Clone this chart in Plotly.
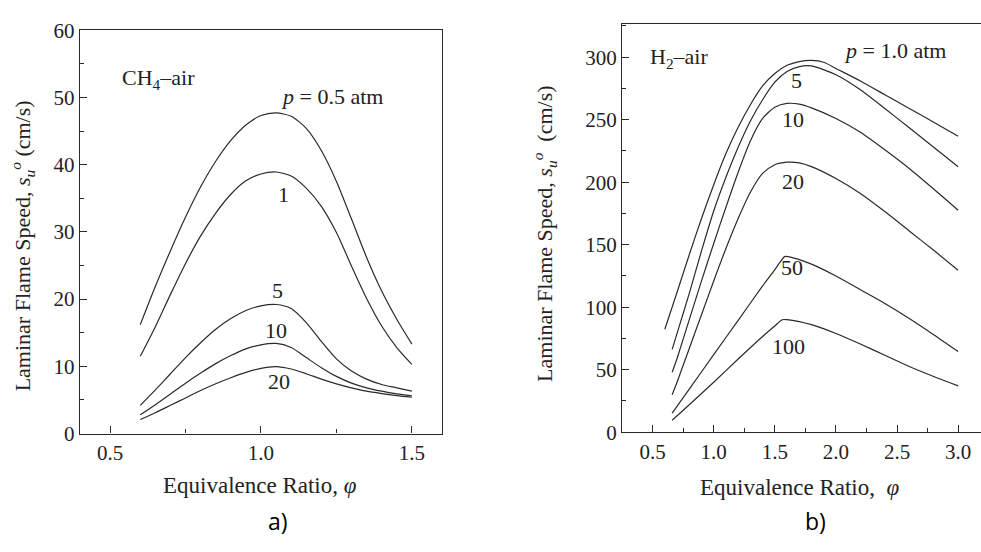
import plotly.graph_objects as go

# ---- Data: CH4-air (panel a) ----
phi_ch4 = [0.6, 0.65, 0.7, 0.75, 0.8, 0.85, 0.9, 0.95, 1.0, 1.05, 1.1, 1.15, 1.2, 1.25, 1.3, 1.35, 1.4, 1.45, 1.5]
ch4_p05 = [16.2, 21.9, 27.2, 32.2, 36.7, 40.5, 43.6, 45.9, 47.3, 47.7, 47.2, 45.4, 42.1, 37.5, 31.9, 26.2, 21.2, 17.0, 13.3]
ch4_p1 = [11.5, 15.9, 20.7, 25.3, 29.4, 32.8, 35.6, 37.6, 38.6, 38.9, 38.3, 36.5, 33.8, 29.9, 24.9, 20.1, 16.0, 12.8, 10.3]
ch4_p5 = [4.2, 6.5, 8.9, 11.3, 13.5, 15.5, 17.1, 18.3, 19.0, 19.2, 18.6, 16.5, 13.7, 11.1, 9.3, 8.1, 7.3, 6.8, 6.3]
ch4_p10 = [2.8, 4.3, 5.9, 7.5, 9.0, 10.4, 11.6, 12.6, 13.2, 13.4, 12.8, 11.3, 9.8, 8.5, 7.5, 6.8, 6.3, 5.9, 5.6]
ch4_p20 = [2.1, 3.1, 4.2, 5.3, 6.4, 7.4, 8.3, 9.1, 9.7, 9.95, 9.6, 8.9, 8.1, 7.4, 6.8, 6.3, 5.95, 5.65, 5.4]

# ---- Data: H2-air (panel b) ----
h2_p1_x = [0.6, 0.7, 0.8, 0.9, 1.0, 1.1, 1.2, 1.3, 1.4, 1.5, 1.6, 1.7, 1.8, 1.9, 2.0, 2.2, 2.4, 2.6, 2.8, 3.0]
h2_p1_y = [82.3, 112, 142, 171, 198, 223, 244, 262, 277, 287, 293.5, 296.5, 297.5, 296, 291, 281, 270, 259, 248, 236.7]
h2_x = [0.66, 0.7, 0.8, 0.9, 1.0, 1.1, 1.2, 1.3, 1.4, 1.5, 1.6, 1.7, 1.8, 2.0, 2.2, 2.4, 2.6, 2.8, 3.0]
h2_p5 = [66.3, 79, 111, 145, 177, 204, 228, 249, 266, 280, 288.5, 292.5, 293, 286, 274, 259, 243.5, 228, 212.4]
h2_p10 = [47.9, 59, 90, 121, 151, 180, 208, 233, 251, 260, 263, 262.5, 259.5, 251, 240, 226, 211, 194.5, 177.5]
h2_p20 = [30, 40, 67, 94, 121, 147, 171, 192, 207, 214, 216, 215.5, 212.5, 203, 191, 176.5, 161, 145.5, 129.5]
h2_p50_x = [0.66, 0.8, 1.0, 1.2, 1.4, 1.5, 1.55, 1.58, 1.65, 1.8, 2.0, 2.2, 2.4, 2.6, 2.8, 3.0]
h2_p50 = [15.3, 34.5, 62, 89.5, 117, 130, 137, 140.5, 139.5, 134.5, 125, 114, 103, 91, 78, 64.5]
h2_p100_x = [0.66, 0.8, 1.0, 1.2, 1.4, 1.5, 1.56, 1.6, 1.7, 1.8, 2.0, 2.2, 2.4, 2.6, 2.8, 3.0]
h2_p100 = [9.6, 22, 40, 58.5, 76.5, 85, 90, 90, 88.5, 86, 79, 70.5, 61.5, 52.5, 44.5, 37]

SERIF = "Liberation Serif, Times New Roman, serif"
LC = "#2a2a2a"

fig = go.Figure()

def add(x, y, xa, ya):
    fig.add_trace(go.Scatter(x=x, y=y, mode="lines", xaxis=xa, yaxis=ya,
                             line=dict(color=LC, width=1.2, shape="spline", smoothing=0.7),
                             showlegend=False, hoverinfo="skip"))

for ys in [ch4_p05, ch4_p1, ch4_p5, ch4_p10, ch4_p20]:
    add(phi_ch4, ys, "x", "y")

add(h2_p1_x, h2_p1_y, "x2", "y2")
for ys in [h2_p5, h2_p10, h2_p20]:
    add(h2_x, ys, "x2", "y2")
add(h2_p50_x, h2_p50, "x2", "y2")
add(h2_p100_x, h2_p100, "x2", "y2")

axis_common = dict(showline=True, linecolor=LC, linewidth=1.3, ticks="inside", ticklen=7,
                   tickcolor=LC, tickwidth=1.2, showgrid=False, zeroline=False,
                   tickfont=dict(family=SERIF, size=21, color="#222"))

fig.update_layout(
    width=981, height=552, margin=dict(l=0, r=0, t=0, b=0),
    plot_bgcolor="white", paper_bgcolor="white",
    xaxis=dict(domain=[0.0815, 0.4506], range=[0.4, 1.6], anchor="y", mirror=True,
               tick0=0.5, dtick=0.5, tickformat=".1f",
               minor=dict(ticks="inside", ticklen=4, dtick=0.25, tick0=0.25, tickcolor=LC),
               **axis_common),
    yaxis=dict(domain=[0.2016, 0.9656], range=[0, 60], anchor="x", mirror=True,
               tick0=0, dtick=10,
               minor=dict(ticks="inside", ticklen=4, dtick=5, tickcolor=LC),
               **axis_common),
    xaxis2=dict(domain=[0.6341, 1.0], range=[0.25, 3.187], anchor="y2", mirror=True,
                tick0=0.5, dtick=0.5, tickformat=".1f",
                minor=dict(ticks="inside", ticklen=4, dtick=0.25, tick0=0.25, tickcolor=LC),
                **axis_common),
    yaxis2=dict(domain=[0.2042, 0.9764], range=[0, 326.2], anchor="x2", mirror=False,
                tick0=0, dtick=50,
                minor=dict(ticks="inside", ticklen=4, dtick=25, tickcolor=LC),
                **axis_common),
)

def px(x, y, text, size=22, family=SERIF, angle=0, color="#222"):
    fig.add_annotation(x=x / 981, y=1 - y / 552, xref="paper", yref="paper", text=text,
                       showarrow=False, textangle=angle, xanchor="center", yanchor="middle",
                       font=dict(family=family, size=size, color=color))

# Panel a labels
px(158, 70, "CH<sub>4</sub>–air")
px(332, 88, "<i>p</i> = 0.5 atm")
px(283, 191, "1")
px(277, 291, "5")
px(276, 333, "10")
px(279, 386, "20")
px(22, 245, "Laminar Flame Speed, <i>s</i><sub><i>u</i></sub><sup><i>o</i></sup> (cm/s)", size=22, angle=-90)
px(260, 495, "Equivalence Ratio, <i>φ</i>", size=23)
px(278, 532, "a)", size=23, family="Open Sans, Liberation Sans, sans-serif", color="#000")

# Panel b labels
px(679, 48, "H<sub>2</sub>–air")
px(895, 40, "<i>p</i> = 1.0 atm")
px(796, 72, "5")
px(793, 112, "10")
px(793, 177, "20")
px(792, 267, "50")
px(788, 350, "100")
px(545, 232, "Laminar Flame Speed, <i>s</i><sub><i>u</i></sub><sup><i>o</i></sup>  (cm/s)", size=22, angle=-90)
px(800, 497, "Equivalence Ratio,  <i>φ</i>", size=23)
px(815, 532, "b)", size=23, family="Open Sans, Liberation Sans, sans-serif", color="#000")

fig.write_html("out.html")
